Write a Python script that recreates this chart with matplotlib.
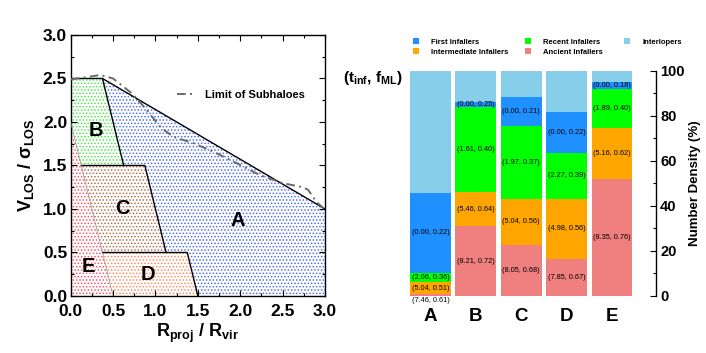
import matplotlib
matplotlib.use('Agg')
import matplotlib.pyplot as plt
from matplotlib.patches import Polygon, Patch
from matplotlib.ticker import MultipleLocator
import numpy as np

plt.rcParams['font.family'] = ['Liberation Sans', 'DejaVu Sans']
plt.rcParams['mathtext.fontset'] = 'custom'
plt.rcParams['mathtext.rm'] = 'Liberation Sans'
plt.rcParams['mathtext.bf'] = 'Liberation Sans:bold'
plt.rcParams['mathtext.it'] = 'Liberation Sans:italic'
plt.rcParams['mathtext.sf'] = 'Liberation Sans'
plt.rcParams['hatch.linewidth'] = 0.7

# ---------------- left panel data ----------------
region_names = ['A', 'B', 'C', 'D', 'E']
region_A = [(0.375, 2.5), (3.0, 1.0), (3.0, 0.0), (1.5, 0.0), (1.375, 0.5),
            (1.125, 0.5), (0.875, 1.5), (0.625, 1.5)]
region_B = [(0.0, 2.0), (0.0, 2.5), (0.375, 2.5), (0.625, 1.5), (0.125, 1.5)]
region_C = [(0.125, 1.5), (0.875, 1.5), (1.125, 0.5), (0.375, 0.5)]
region_D = [(0.375, 0.5), (1.375, 0.5), (1.5, 0.0), (0.5, 0.0)]
region_E = [(0.0, 0.0), (0.5, 0.0), (0.0, 2.0)]
regions = [region_A, region_B, region_C, region_D, region_E]

boundary_black = [
    [(0.0, 2.5), (0.375, 2.5), (3.0, 1.0)],
    [(0.375, 2.5), (0.625, 1.5)],
    [(0.125, 1.5), (0.875, 1.5), (1.125, 0.5)],
    [(0.375, 0.5), (1.375, 0.5), (1.5, 0.0)],
]
boundary_grey = [[(0.0, 2.0), (0.5, 0.0)]]

limit_x = [0.0, 0.15, 0.35, 0.5, 0.72, 0.86, 1.07, 1.21, 1.45, 1.68, 1.96,
           2.23, 2.51, 2.74, 2.80, 2.90, 2.98, 3.0]
limit_y = [2.49, 2.51, 2.54, 2.50, 2.33, 2.18, 1.93, 1.83, 1.755, 1.66, 1.525,
           1.39, 1.295, 1.25, 1.22, 1.08, 1.01, 0.97]

# ---------------- right panel data ----------------
bar_cats = ['A', 'B', 'C', 'D', 'E']
ancient = [0.9, 31.1, 22.8, 16.6, 52.0]
intermediate = [5.2, 15.1, 20.3, 26.5, 22.5]
recent = [4.3, 37.8, 32.6, 20.6, 17.5]
first = [35.4, 2.1, 12.7, 17.9, 2.9]
interlopers = [54.2, 13.9, 11.6, 18.4, 5.1]

ancient_txt = ['(7.46, 0.61)', '(8.21, 0.72)', '(8.05, 0.68)', '(7.85, 0.67)', '(8.35, 0.76)']
intermediate_txt = ['(5.04, 0.51)', '(5.46, 0.64)', '(5.04, 0.56)', '(4.98, 0.56)', '(5.16, 0.62)']
recent_txt = ['(2.06, 0.36)', '(1.61, 0.40)', '(1.97, 0.37)', '(2.27, 0.39)', '(1.89, 0.40)']
first_txt = ['(0.00, 0.22)', '(0.00, 0.25)', '(0.00, 0.21)', '(0.00, 0.22)', '(0.00, 0.18)']

# ---------------- styles ----------------
region_dot_colors = ['#4a6cf5', '#4ae84a', '#b07048', '#ff8a5a', '#ff5066']
region_label_xy = [(1.965, 0.87), (0.30, 1.90), (0.613, 1.0), (0.908, 0.25), (0.208, 0.34)]
col_anc, col_int, col_rec, col_fir, col_itl = '#F08080', '#FFA500', '#00FF00', '#1E90FF', '#87CEEB'

fig = plt.figure(figsize=(7.06, 3.53), dpi=100)

# ================= LEFT PANEL =================
ax = fig.add_axes([0.1001, 0.1615, 0.3603, 0.7394])
for verts, c in zip(regions, region_dot_colors):
    ax.add_patch(Polygon(verts, closed=True, facecolor='white', edgecolor=c,
                         hatch='.....', linewidth=0, zorder=1))
for line in boundary_black:
    xs, ys = zip(*line)
    ax.plot(xs, ys, color='black', lw=1.0, zorder=3)
for line in boundary_grey:
    xs, ys = zip(*line)
    ax.plot(xs, ys, color='#909090', lw=0.5, zorder=3)
ax.plot(limit_x, limit_y, color='#6a6a6a', lw=1.4,
        linestyle=(0, (4.5, 2.2, 1.0, 2.2)), label='Limit of Subhaloes', zorder=4)
for name, (lx, ly) in zip(region_names, region_label_xy):
    ax.text(lx, ly, name, fontsize=14.5, fontweight='bold', ha='center', va='center', zorder=5)

ax.set_xlim(0, 3)
ax.set_ylim(0, 3)
ax.xaxis.set_major_locator(MultipleLocator(0.5))
ax.yaxis.set_major_locator(MultipleLocator(0.5))
ax.xaxis.set_minor_locator(MultipleLocator(0.25))
ax.yaxis.set_minor_locator(MultipleLocator(0.25))
ax.tick_params(which='both', direction='in', top=True, right=True)
ax.tick_params(which='major', length=4, width=0.8)
ax.tick_params(which='minor', length=2.5, width=0.8)
ax.tick_params(axis='x', pad=6)
ax.tick_params(axis='y', pad=2.5)
for lab in ax.get_xticklabels() + ax.get_yticklabels():
    lab.set_fontsize(12.5)
    lab.set_fontweight('bold')
ax.xaxis.set_major_formatter(matplotlib.ticker.FormatStrFormatter('%.1f'))
ax.yaxis.set_major_formatter(matplotlib.ticker.FormatStrFormatter('%.1f'))
ax.set_xlabel(r'$\mathbf{R_{proj}\ /\ R_{vir}}$', fontsize=13, labelpad=2)
ax.set_ylabel(r'$\mathbf{V_{LOS}\ /\ \sigma_{LOS}}$', fontsize=13, labelpad=5)
for s in ax.spines.values():
    s.set_linewidth(1.0)
ax.legend(loc='center left', bbox_to_anchor=(0.417, 0.77), frameon=False,
          handlelength=1.5, handletextpad=1.0, borderpad=0, borderaxespad=0,
          prop={'size': 8, 'weight': 'bold'})

# ================= RIGHT PANEL =================
bx = fig.add_axes([0.5737, 0.1615, 0.3555, 0.6374])
x = np.arange(len(bar_cats))
w = 0.9
series = [(ancient, col_anc, 'Ancient Infallers', ancient_txt),
          (intermediate, col_int, 'Intermediate Infallers', intermediate_txt),
          (recent, col_rec, 'Recent Infallers', recent_txt),
          (first, col_fir, 'First Infallers', first_txt),
          (interlopers, col_itl, 'Interlopers', None)]
bottom = np.zeros(len(bar_cats))
handles = {}
for vals, col, lab, txts in series:
    vals = np.array(vals, dtype=float)
    bx.bar(x, vals, w, bottom=bottom, color=col, linewidth=0, label=lab)
    handles[lab] = Patch(facecolor=col, edgecolor='none')
    if txts is not None:
        for i in range(len(x)):
            if vals[i] < 2.0:
                ypos = -2.2
            else:
                ypos = bottom[i] + vals[i] / 2.0
            bx.text(x[i], ypos, txts[i], fontsize=5.3, ha='center', va='center',
                    clip_on=False, zorder=5)
    bottom = bottom + vals

bx.set_xlim(-0.56, 4.97)
bx.set_ylim(0, 100)
for side in ['left', 'top', 'bottom']:
    bx.spines[side].set_visible(False)
bx.spines['right'].set_linewidth(1.0)
bx.spines['right'].set_bounds(0, 100)
bx.set_xticks(x)
bx.set_xticklabels(bar_cats, fontsize=13.5, fontweight='bold')
bx.tick_params(axis='x', length=0, pad=9)
bx.yaxis.tick_right()
bx.yaxis.set_major_locator(MultipleLocator(20))
bx.yaxis.set_minor_locator(MultipleLocator(10))
bx.tick_params(axis='y', which='both', direction='in', left=False, right=True,
               labelleft=False, labelright=True, pad=3, width=0.8)
bx.tick_params(axis='y', which='major', length=4)
bx.tick_params(axis='y', which='minor', length=2.5)
for lab in bx.get_yticklabels():
    lab.set_fontsize(10.5)
    lab.set_fontweight('bold')
bx.yaxis.set_label_position('right')
bx.set_ylabel('Number Density (%)', fontsize=9.5, fontweight='bold', labelpad=3)
bx.text(-0.01, 0.969, r'(t$_{\mathbf{inf}}$, f$_{\mathbf{ML}}$)', transform=bx.transAxes,
        fontsize=11, fontweight='bold', ha='right', va='center')

legend_cols = [['First Infallers', 'Intermediate Infallers'],
               ['Recent Infallers', 'Ancient Infallers'],
               ['Interlopers']]
col_x = [0.5845, 0.7432, 0.8834]
for names, cx in zip(legend_cols, col_x):
    fig.legend([handles[n] for n in names], names, loc='upper left',
               bbox_to_anchor=(cx, 0.8925), bbox_transform=fig.transFigure,
               frameon=False, handlelength=0.85, handleheight=0.85,
               handletextpad=1.6, labelspacing=0.3, borderpad=0,
               borderaxespad=0, prop={'size': 5.5, 'weight': 'bold'})

fig.savefig('out.png', dpi=100)
